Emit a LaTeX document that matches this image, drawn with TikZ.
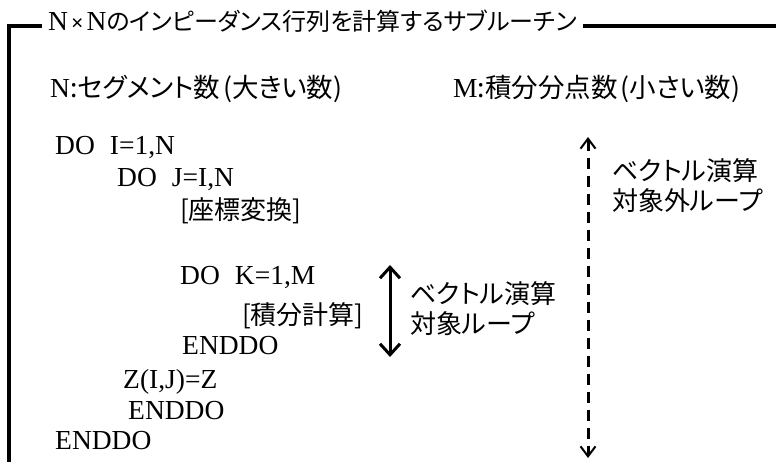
\documentclass[tikz,border=0pt]{standalone}
\usepackage{fontspec}
\setmainfont{Liberation Serif}
\newfontfamily\jp{Noto Sans CJK JP}[RawFeature=+palt]
\usetikzlibrary{arrows.meta}
\newcommand{\jtext}[1]{{\jp\fontsize{26.5}{30}\selectfont #1}}
\newcommand{\ttltext}[1]{{\jp\fontsize{24}{30}\selectfont #1}}
\begin{document}
\begin{tikzpicture}[x=1pt,y=-1pt,
  code/.style={anchor=base west, inner sep=0pt, font=\fontsize{27.5}{30}\selectfont},
  jptext/.style={anchor=base west, inner sep=0pt, font=\fontsize{26}{30}\selectfont\jp},
  ttl/.style={anchor=base west, inner xsep=6pt, inner ysep=0pt, font=\fontsize{27.5}{30}\selectfont},
  frame/.style={line width=3.5pt, line join=miter},
  inloop/.style={line width=3pt, {Straight Barb[length=11pt,width=20pt]}-{Straight Barb[length=11pt,width=20pt]}},
  outloop/.style={line width=3pt, dash pattern=on 11pt off 7pt, {Straight Barb[length=10pt,width=15pt,line width=2pt]}-{Straight Barb[length=10pt,width=15pt,line width=2pt]}}
]
\useasboundingbox (0,0) rectangle (776,462);
% frame and title
\node[ttl] (title) at (42,31) {N\hspace{3pt}{\fontsize{22}{30}\selectfont\textbf{×}}\hspace{3pt}N\ttltext{のインピーダンス行列を計算するサブルーチン}};
\coordinate (tl) at (9,26);
\coordinate (bl) at (9,475);
\coordinate (tr) at (790,26);
\draw[frame] (title.west |- tl) -- (tl) -- (bl);
\draw[frame] (title.east |- tl) -- (tr);
% parameters
\node[code] (nseg) at (50,98) {N\jtext{:セグメント数\hspace{3pt}(大きい数)}};
\node[code] (mint) at (453,98) {M\jtext{:積分分点数\hspace{3pt}(小さい数)}};
% code
\node[code] (doi) at (55,155) {DO\hspace{15pt}I=1,N};
\node[code] (doj) at (117,187) {DO\hspace{15pt}J=I,N};
\node[jptext] (coord) at (180,220) {[座標変換]};
\node[code] (dok) at (180,284) {DO\hspace{15pt}K=1,M};
\node[jptext] (integ) at (242,324) {[積分計算]};
\node[code] (endk) at (182,354) {ENDDO};
\node[code] (zij) at (123,388) {Z(I,J)=Z};
\node[code] (endj) at (128,419) {ENDDO};
\node[code] (endi) at (55,449) {ENDDO};
% inner loop arrow
\coordinate (inTop) at (390,265);
\coordinate (inBot) at (390,357);
\draw[inloop] (inTop) -- (inBot);
\node[jptext] (inA) at (410,303.5) {ベクトル演算};
\node[jptext] (inB) at (410,333.5) {対象ループ};
% outer loop arrow
\coordinate (outTop) at (588,137);
\coordinate (outBot) at (588,458);
\draw[outloop] (outTop) -- (outBot);
\node[jptext] (outA) at (612,180.5) {ベクトル演算};
\node[jptext] (outB) at (612,210.5) {対象外ループ};
\end{tikzpicture}
\end{document}
